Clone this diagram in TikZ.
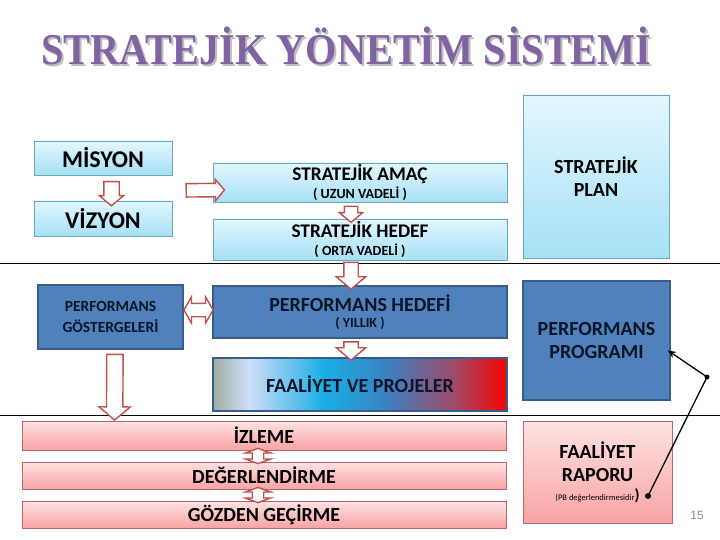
\documentclass[tikz,border=0pt]{standalone}
\usepackage{fontspec}
\setmainfont{Carlito}
\newfontfamily\titlefont{Liberation Serif}
\newfontfamily\numfont{Liberation Sans}
\usetikzlibrary{shapes.arrows,calc,arrows.meta}

\definecolor{lbtop}{HTML}{E2F7FE}
\definecolor{lbbot}{HTML}{A6E0F5}
\definecolor{lbdraw}{HTML}{6AA8BC}
\definecolor{bfill}{HTML}{4F81BD}
\definecolor{bdraw}{HTML}{385D8A}
\definecolor{btext}{HTML}{0C1626}
\definecolor{ptop}{HTML}{FFE2E2}
\definecolor{pbot}{HTML}{F8A3A3}
\definecolor{pdraw}{HTML}{B86868}
\definecolor{arr}{HTML}{C0504D}
\definecolor{titlec}{HTML}{8064A2}
\definecolor{shadowc}{HTML}{BEBEBE}
\definecolor{numc}{HTML}{8C8C8C}
\definecolor{fa1}{HTML}{9EAE9E}
\definecolor{fa2}{HTML}{D0DEF8}
\definecolor{fa3}{HTML}{18AEE6}
\definecolor{fa4}{HTML}{3F7FC0}
\definecolor{fa5}{HTML}{A04A6A}
\definecolor{fa6}{HTML}{F80000}

\pgfdeclarehorizontalshading{faal}{100bp}{color(0bp)=(fa1); color(25bp)=(fa1); color(31bp)=(fa2); color(44bp)=(fa3); color(55bp)=(fa4); color(66bp)=(fa5); color(75bp)=(fa6); color(100bp)=(fa6)}

\newcommand\blockarr[3]{%
  \path let \p1=(#2), \p2=(#3), \n1={veclen(\x2-\x1,\y2-\y1)}, \n2={atan2(\y2-\y1,\x2-\x1)} in
    node[#1, minimum height=\n1, rotate=\n2] at ($(#2)!0.5!(#3)$) {};}

\tikzset{
  lbox/.style={draw=lbdraw, line width=0.8pt, top color=lbtop, bottom color=lbbot, font=\bfseries, align=center, inner sep=0pt, text=black},
  bbox/.style={draw=bdraw, line width=1.8pt, fill=bfill, font=\bfseries, align=center, inner sep=0pt, text=btext},
  pbox/.style={draw=pdraw, line width=0.8pt, top color=ptop, bottom color=pbot, font=\bfseries, align=center, inner sep=0pt, text=black},
  fbox/.style={draw=bdraw, line width=1.8pt, shading=faal, font=\bfseries, align=center, inner sep=0pt, text=btext},
  blk/.style 2 args={single arrow, draw=arr, fill=white, line width=1.4pt, inner xsep=0pt, inner ysep=#1, single arrow head extend=#2, single arrow tip angle=100, minimum width=0pt, outer sep=0pt},
  dblk/.style n args={3}{double arrow, draw=arr, fill=white, line width=1.4pt, inner xsep=0pt, inner ysep=#1, double arrow head extend=#2, double arrow tip angle=#3, minimum width=0pt, outer sep=0pt},
  dotn/.style={circle, fill=black, inner sep=0pt, minimum size=5pt},
  conn/.style={line width=1.3pt, black},
  big/.style={font=\bfseries\fontsize{20}{#1}\selectfont},
  mid/.style={font=\bfseries\fontsize{19.3}{#1}\selectfont}
}
\newcommand\smalltxt[1]{{\fontsize{14}{14}\selectfont #1}}

\begin{document}
\begin{tikzpicture}[x=1pt, y=-1pt]
\useasboundingbox[fill=white] (0,0) rectangle (720,540);

% title
\node[text=shadowc, font=\titlefont\bfseries\fontsize{44}{44}\selectfont, xscale=0.915, inner sep=0pt] (titlesh) at (348.5,47.5) {STRATEJİK YÖNETİM SİSTEMİ};
\node[text=titlec, font=\titlefont\bfseries\fontsize{44}{44}\selectfont, xscale=0.915, inner sep=0pt] (title) at (346.5,45.5) {STRATEJİK YÖNETİM SİSTEMİ};

% separator lines
\draw[line width=0.8pt] (0,263) -- (720,263);
\draw[line width=0.8pt] (0,415) -- (720,415);

% light blue boxes
\node[lbox, minimum width=138pt, minimum height=34pt, font=\bfseries\fontsize{24}{24}\selectfont] (mis) at (103,158) {MİSYON};
\node[lbox, minimum width=138pt, minimum height=35pt, font=\bfseries\fontsize{24}{24}\selectfont] (viz) at (103,218.5) {VİZYON};
\node[lbox, mid=18, minimum width=294pt, minimum height=39pt] (amac) at (360,182.5) {STRATEJİK AMAÇ\\\smalltxt{( UZUN VADELİ )}};
\node[lbox, mid=18, minimum width=294pt, minimum height=41pt] (hedef) at (360,239.5) {STRATEJİK HEDEF\\\smalltxt{( ORTA VADELİ )}};
\node[lbox, big=23, minimum width=146pt, minimum height=163pt] (plan) at (596,176.5) {STRATEJİK\\PLAN};

% blue boxes
\node[bbox, minimum width=145pt, minimum height=64pt, font=\bfseries\fontsize{15.5}{21}\selectfont] (pg) at (110.5,317) {PERFORMANS\\GÖSTERGELERİ};
\node[bbox, big=16, minimum width=294pt, minimum height=52pt] (ph) at (360,312) {PERFORMANS HEDEFİ\\\smalltxt{( YILLIK )}};
\node[fbox, big=20, minimum width=294pt, minimum height=53pt] (fa) at (360,384.5) {FAALİYET VE PROJELER};
\node[bbox, big=23, minimum width=147pt, minimum height=119pt] (pp) at (596.5,340.5) {PERFORMANS\\PROGRAMI};

% pink boxes
\node[pbox, big=20, minimum width=484pt, minimum height=29pt] (iz) at (264,435.5) {İZLEME};
\node[pbox, big=20, minimum width=484pt, minimum height=27pt] (de) at (264,475.5) {DEĞERLENDİRME};
\node[pbox, big=20, minimum width=484pt, minimum height=27pt] (go) at (264,514.5) {GÖZDEN GEÇİRME};
\node[pbox, big=23, minimum width=149pt, minimum height=102pt] (fr) at (597.5,472) {FAALİYET\\RAPORU\\[-4pt]{\mdseries\fontsize{8.5}{9}\selectfont (PB değerlendirmesidir}{\fontsize{16}{16}\selectfont )}};

% page number
\node[text=numc, font=\numfont\fontsize{12}{14}\selectfont] (num) at (697,515) {15};

% block arrow end points
\coordinate (a1s) at ($(mis.south)+(8.5,3)$);
\coordinate (a1e) at ($(viz.north)+(8.5,2)$);
\coordinate (a2s) at ($(mis.south east)+(11,15)$);
\coordinate (a2e) at ($(amac.west)+(9,7.5)$);
\coordinate (a3s) at ($(amac.south)+(-9,1)$);
\coordinate (a3e) at ($(hedef.north)+(-9,1)$);
\coordinate (a4s) at ($(hedef.south)+(-9,-1)$);
\coordinate (a4e) at ($(ph.north)+(-9,1)$);
\coordinate (a5s) at ($(ph.south)+(-9,0)$);
\coordinate (a5e) at ($(fa.north)+(-9,0)$);
\coordinate (a6s) at ($(pg.east)+(0,-7)$);
\coordinate (a6e) at ($(ph.west)+(1,-2)$);
\coordinate (a7s) at ($(pg.south)+(4.5,1)$);
\coordinate (a7e) at ($(iz.north west)+(93,-4)$);
\coordinate (a8s) at ($(iz.south)+(-6,-2)$);
\coordinate (a8e) at ($(de.north)+(-6,2)$);
\coordinate (a9s) at ($(de.south)+(-6,-2)$);
\coordinate (a9e) at ($(go.north)+(-6,2)$);

\blockarr{blk={7pt}{4.5pt}}{a1s}{a1e}
\blockarr{blk={6pt}{4pt}}{a2s}{a2e}
\blockarr{blk={6pt}{5pt}}{a3s}{a3e}
\blockarr{blk={6.5pt}{7.5pt}}{a4s}{a4e}
\blockarr{blk={6.5pt}{7.5pt}}{a5s}{a5e}
\blockarr{dblk={6pt}{6.5pt}{120}}{a6s}{a6e}
\blockarr{blk={7.5pt}{7.5pt}}{a7s}{a7e}
\blockarr{dblk={5pt}{7pt}{140}}{a8s}{a8e}
\blockarr{dblk={5pt}{7pt}{140}}{a9s}{a9e}

% black connector
\node[dotn] (d1) at (707,377) {};
\node[dotn, minimum size=6pt] (d2) at (648,496) {};
\coordinate (pptip) at ($(pp.east)+(-3,10)$);
\draw[conn, -{Stealth[length=8pt,width=7pt]}] (d1.center) -- (pptip);
\draw[conn] (d1.center) -- (d2.center);
\end{tikzpicture}
\end{document}
